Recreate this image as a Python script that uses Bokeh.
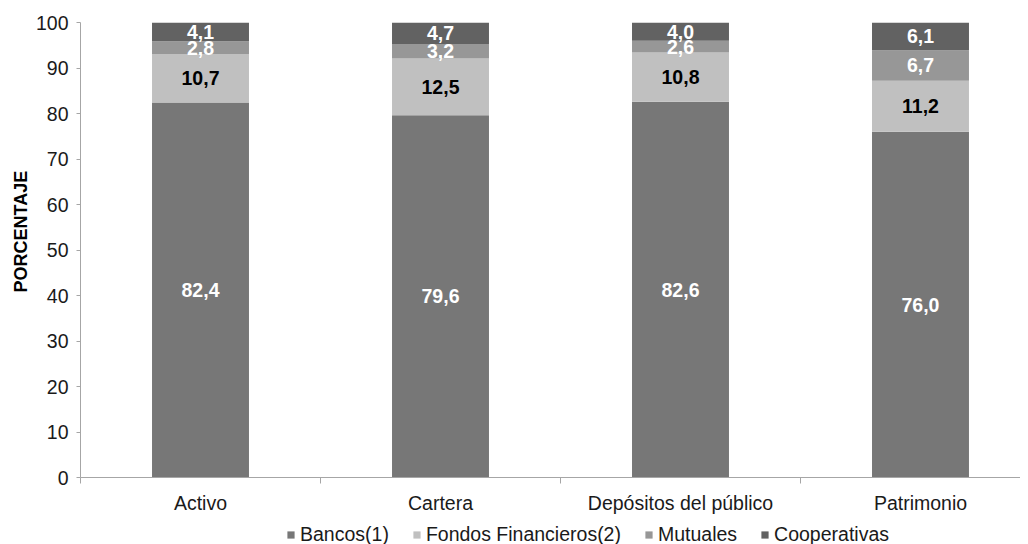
from bokeh.plotting import figure
from bokeh.layouts import column
from bokeh.models import (ColumnDataSource, Range1d, FixedTicker, Legend, LegendItem,
                          Title)
from bokeh.core.properties import value
from bokeh.embed import file_html
from bokeh.resources import INLINE

categories = ["Activo", "Cartera", "Depósitos del público", "Patrimonio"]
series_names = ["Bancos(1)", "Fondos Financieros(2)", "Mutuales", "Cooperativas"]
bancos = [82.4, 79.6, 82.6, 76.0]
fondos = [10.7, 12.5, 10.8, 11.2]
mutuales = [2.8, 3.2, 2.6, 6.7]
cooperativas = [4.1, 4.7, 4.0, 6.1]
y_ticks = [0, 10, 20, 30, 40, 50, 60, 70, 80, 90, 100]

colors = ["#777777", "#c0c0c0", "#979797", "#626262"]
label_colors = ["white", "black", "white", "white"]
FONT = "Liberation Sans"

xs = list(range(len(categories)))
keys = ["bancos", "fondos", "mutuales", "cooperativas"]
data = dict(x=xs, bancos=bancos, fondos=fondos, mutuales=mutuales,
            cooperativas=cooperativas)
source = ColumnDataSource(data)

p = figure(frame_width=940, frame_height=455, output_backend="svg",
           toolbar_location=None, x_range=Range1d(-0.5, 3.4167),
           y_range=Range1d(0, 100), min_border_left=80, min_border_top=22,
           min_border_right=0, min_border_bottom=30)
p.outline_line_color = None
p.xgrid.grid_line_color = None
p.ygrid.grid_line_color = None
p.background_fill_color = "white"
p.border_fill_color = "white"

p.vbar_stack(keys, x="x", width=0.404, source=source,
             color=colors, line_color=None)

# data labels
series = [bancos, fondos, mutuales, cooperativas]
bottoms = [0.0] * len(categories)
for vals, col in zip(series, label_colors):
    mids = [b + v / 2 for b, v in zip(bottoms, vals)]
    txt = [f"{v:.1f}".replace(".", ",") for v in vals]
    p.text(x=xs, y=mids, text=txt, text_color=col, text_align="center",
           text_baseline="middle", text_font=value(FONT),
           text_font_size="19.5px", text_font_style="bold")
    bottoms = [b + v for b, v in zip(bottoms, vals)]

# x axis
p.xaxis.ticker = FixedTicker(ticks=xs, minor_ticks=[-0.5, 0.5, 1.5, 2.5])
p.xaxis.major_label_overrides = {i: c for i, c in enumerate(categories)}
p.xaxis.major_tick_line_color = None
p.xaxis.major_tick_out = 0
p.xaxis.major_tick_in = 0
p.xaxis.minor_tick_out = 6
p.xaxis.minor_tick_in = 0
p.xaxis.minor_tick_line_color = "#a6a6a6"
p.xaxis.axis_line_color = "#a6a6a6"
p.xaxis.major_label_standoff = 8
p.xaxis.major_label_text_font = FONT
p.xaxis.major_label_text_font_size = "19.5px"
p.xaxis.major_label_text_color = "#1a1a1a"

# y axis
p.yaxis.ticker = FixedTicker(ticks=y_ticks)
p.yaxis.minor_tick_line_color = None
p.yaxis.major_tick_out = 4
p.yaxis.major_tick_in = 0
p.yaxis.major_tick_line_color = "#a6a6a6"
p.yaxis.axis_line_color = "#a6a6a6"
p.yaxis.major_label_standoff = 8
p.yaxis.major_label_text_font = FONT
p.yaxis.major_label_text_font_size = "19.5px"
p.yaxis.major_label_text_color = "#1a1a1a"

ytitle = Title(text="PORCENTAJE", align="left", offset=185,
               text_font=FONT, text_font_size="18px", text_font_style="bold",
               text_color="#000000", standoff=4)
p.add_layout(ytitle, "left")

# legend strip (its bars lie outside its own y range, only the legend shows)
lg = figure(frame_width=1020, frame_height=30, output_backend="svg",
            toolbar_location=None, x_range=Range1d(0, 1020),
            y_range=Range1d(500, 530),
            x_axis_location=None, y_axis_location=None,
            min_border_left=0, min_border_right=0, min_border_top=0,
            min_border_bottom=0)
lg.outline_line_color = None
lg.xgrid.grid_line_color = None
lg.ygrid.grid_line_color = None
lg_renderers = lg.vbar_stack(keys, x="x", width=0.404, source=source,
                             color=colors, line_color=None)
legend = Legend(items=[LegendItem(label=n, renderers=[r])
                       for n, r in zip(series_names, lg_renderers)],
                orientation="horizontal", location=(286, 0),
                glyph_width=9, glyph_height=9, label_standoff=5, spacing=23,
                padding=0, margin=0, border_line_color=None,
                background_fill_alpha=0,
                label_text_font=FONT, label_text_font_size="19.5px",
                label_text_color="#1a1a1a")
lg.add_layout(legend, "center")

layout = column(p, lg, spacing=0)
open("out.html", "w").write(file_html(layout, INLINE))
